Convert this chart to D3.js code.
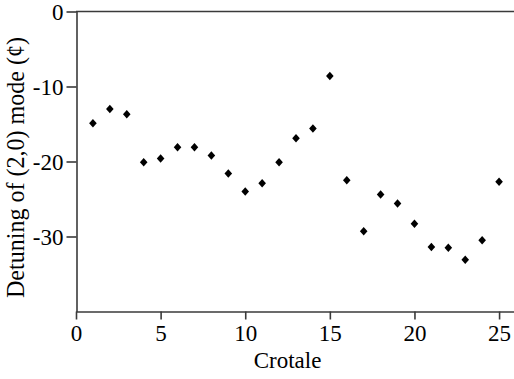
<!DOCTYPE html>
<html><head><meta charset="utf-8">
<script src="https://cdn.jsdelivr.net/npm/d3@7"></script>
<style>body{margin:0;background:#fff}svg{display:block}svg text{font-family:"Liberation Serif","Times New Roman",serif;fill:#000}</style>
</head><body><svg id="c" width="514" height="379"></svg>
<script>
const crotale = [1,2,3,4,5,6,7,8,9,10,11,12,13,14,15,16,17,18,19,20,21,22,23,24,25];
const detuning = [-14.9,-13.0,-13.7,-20.1,-19.6,-18.1,-18.1,-19.2,-21.6,-24.0,-22.9,-20.1,-16.9,-15.6,-8.6,-22.5,-29.3,-24.4,-25.6,-28.3,-31.4,-31.5,-33.1,-30.5,-22.7];
const xTicks = [0,5,10,15,20,25];
const yTicks = [0,-10,-20,-30];

const svg = d3.select("#c");
const x = d3.scaleLinear().domain([0,26]).range([76,516]);
const y = d3.scaleLinear().domain([-40,0]).range([311.5,11.5]);
const axisColor = "#3a3a3a";
const serif = "'Liberation Serif','Times New Roman',serif";

const gx = svg.append("g").attr("class","xaxis").attr("transform","translate(0,311.5)")
  .call(d3.axisBottom(x).tickValues(xTicks).tickSize(8).tickSizeOuter(0).tickPadding(4));
const gy = svg.append("g").attr("class","yaxis").attr("transform","translate(76.5,0)")
  .call(d3.axisLeft(y).tickValues(yTicks).tickSize(10).tickSizeOuter(0).tickPadding(3).tickFormat(d=>String(d)));
[gx,gy].forEach(g=>{
  g.attr("font-family",serif).attr("font-size",23);
  g.selectAll("path,line").attr("stroke",axisColor).attr("stroke-width",1.6);
  g.selectAll(".tick text").attr("font-family",serif).attr("font-size",23)
    .style("font-family",serif).style("font-size","23px").attr("fill","#000");
});
gy.selectAll("text").attr("dy","0.33em");
gx.selectAll("text").attr("dy","0.74em");
svg.append("line").attr("x1",x(0)).attr("x2",514).attr("y1",y(0)).attr("y2",y(0))
  .attr("stroke",axisColor).attr("stroke-width",1.6);

const diamond = {draw(ctx){ const w=3.8,h=4.2; ctx.moveTo(0,-h); ctx.lineTo(w,0); ctx.lineTo(0,h); ctx.lineTo(-w,0); ctx.closePath(); }};
svg.append("g").selectAll("path").data(crotale).join("path")
  .attr("d", d3.symbol(diamond)())
  .attr("transform",(d,i)=>`translate(${x(d)},${y(detuning[i])})`)
  .attr("fill","#000");

svg.append("text").attr("x",287.5).attr("y",368).attr("text-anchor","middle")
  .attr("font-size",23).text("Crotale");
svg.append("text").attr("transform","translate(24,167.5) rotate(-90)").attr("text-anchor","middle")
  .attr("font-size",25).attr("textLength",261).attr("lengthAdjust","spacingAndGlyphs")
  .text("Detuning of (2,0) mode (¢)");
</script></body></html>
